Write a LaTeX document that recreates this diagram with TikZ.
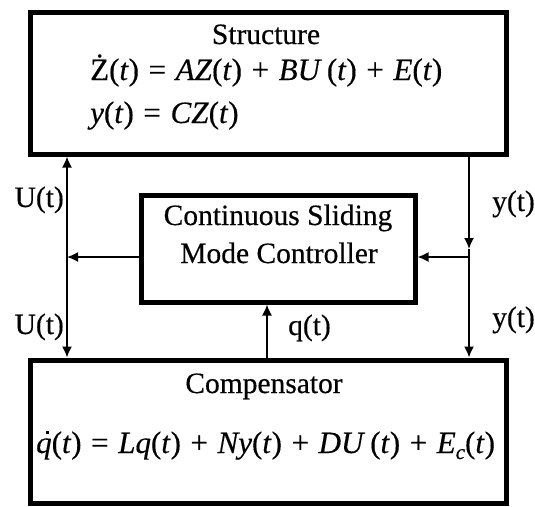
\documentclass[tikz,border=0pt]{standalone}
\usepackage{fontspec}
\setmainfont{Liberation Serif}[FakeBold=0.4, ItalicFeatures={FakeBold=0.4}]
\usetikzlibrary{arrows.meta}
\newcommand{\opsp}[1]{\hspace{0.31em}#1\hspace{0.31em}}
\newcommand{\vi}[1]{\textit{#1}}
\newcommand{\qdot}{\makebox[0pt][l]{\hspace{9.5pt}\raisebox{19pt}{\rule{3.3pt}{3.3pt}}}\vi{q}}
\begin{document}
\begin{tikzpicture}[x=1pt,y=-1pt,
  box/.style={draw, line width=5pt, rectangle, inner sep=0pt},
  lbl/.style={inner sep=0pt, font=\fontsize{29.5}{34}\selectfont},
  eqn/.style={inner sep=0pt, font=\fontsize{31}{36}\selectfont},
  conn/.style={line width=1.7pt},
  arr/.style={conn, -{Latex[length=11pt,width=10pt]}}]
\useasboundingbox (0,0) rectangle (535,506);
% boxes
\node[box, minimum width=476pt, minimum height=142pt] (S) at (268,83) {};
\node[box, minimum width=274pt, minimum height=107pt] (K) at (278,248.5) {};
\node[box, minimum width=476pt, minimum height=143pt] (C) at (268,431.5) {};
% texts in boxes
\node[lbl, anchor=base] (st) at (266,44) {Structure};
\node[eqn, anchor=base west] (e1) at (90,80) {Ż(\vi{t})\opsp{=}\vi{AZ}(\vi{t})\opsp{+}\vi{BU}\,(\vi{t})\opsp{+}\vi{E}(\vi{t})};
\node[eqn, anchor=base west] (e2) at (90,123) {\vi{y}(\vi{t})\opsp{=}\vi{CZ}(\vi{t})};
\node[lbl, anchor=base] (k1) at (278,225) {Continuous Sliding};
\node[lbl, anchor=base] (k2) at (279,263) {Mode Controller};
\node[lbl, anchor=base] (ct) at (264,393) {Compensator};
\node[eqn, anchor=base west] (e3) at (36,453) {\qdot(\vi{t})\opsp{=}\vi{Lq}(\vi{t})\opsp{+}\vi{Ny}(\vi{t})\opsp{+}\vi{DU}\,(\vi{t})\opsp{+}\vi{E}\raisebox{-6pt}{\fontsize{21}{21}\selectfont\vi{c}}(\vi{t})};
% junctions
\coordinate (jl) at (67,257);
\coordinate (jr) at (469,257);
\coordinate (ja) at (469,249);
\coordinate (qx) at (267,330);
% connectors
\draw[arr] (K.west |- jl) -- (jl);
\draw[arr] (jl) -- (jl |- S.south);
\draw[arr] (jl) -- (jl |- C.north);
\draw[arr] (jr |- S.south) -- (ja);
\draw[conn] (ja) -- (jr);
\draw[arr] (jr) -- (jr |- C.north);
\draw[arr] (jr) -- (K.east |- jr);
\draw[arr] (qx |- C.north) -- (qx |- K.south);
% labels
\node[lbl, anchor=base east] (u1) at (64,207) {U(t)};
\node[lbl, anchor=base east] (u2) at (64,334) {U(t)};
\node[lbl, anchor=base west] (y1) at (492,211) {y(t)};
\node[lbl, anchor=base west] (y2) at (492,327) {y(t)};
\node[lbl, anchor=base west] (q1) at (288,335) {q(t)};
\end{tikzpicture}
\end{document}
